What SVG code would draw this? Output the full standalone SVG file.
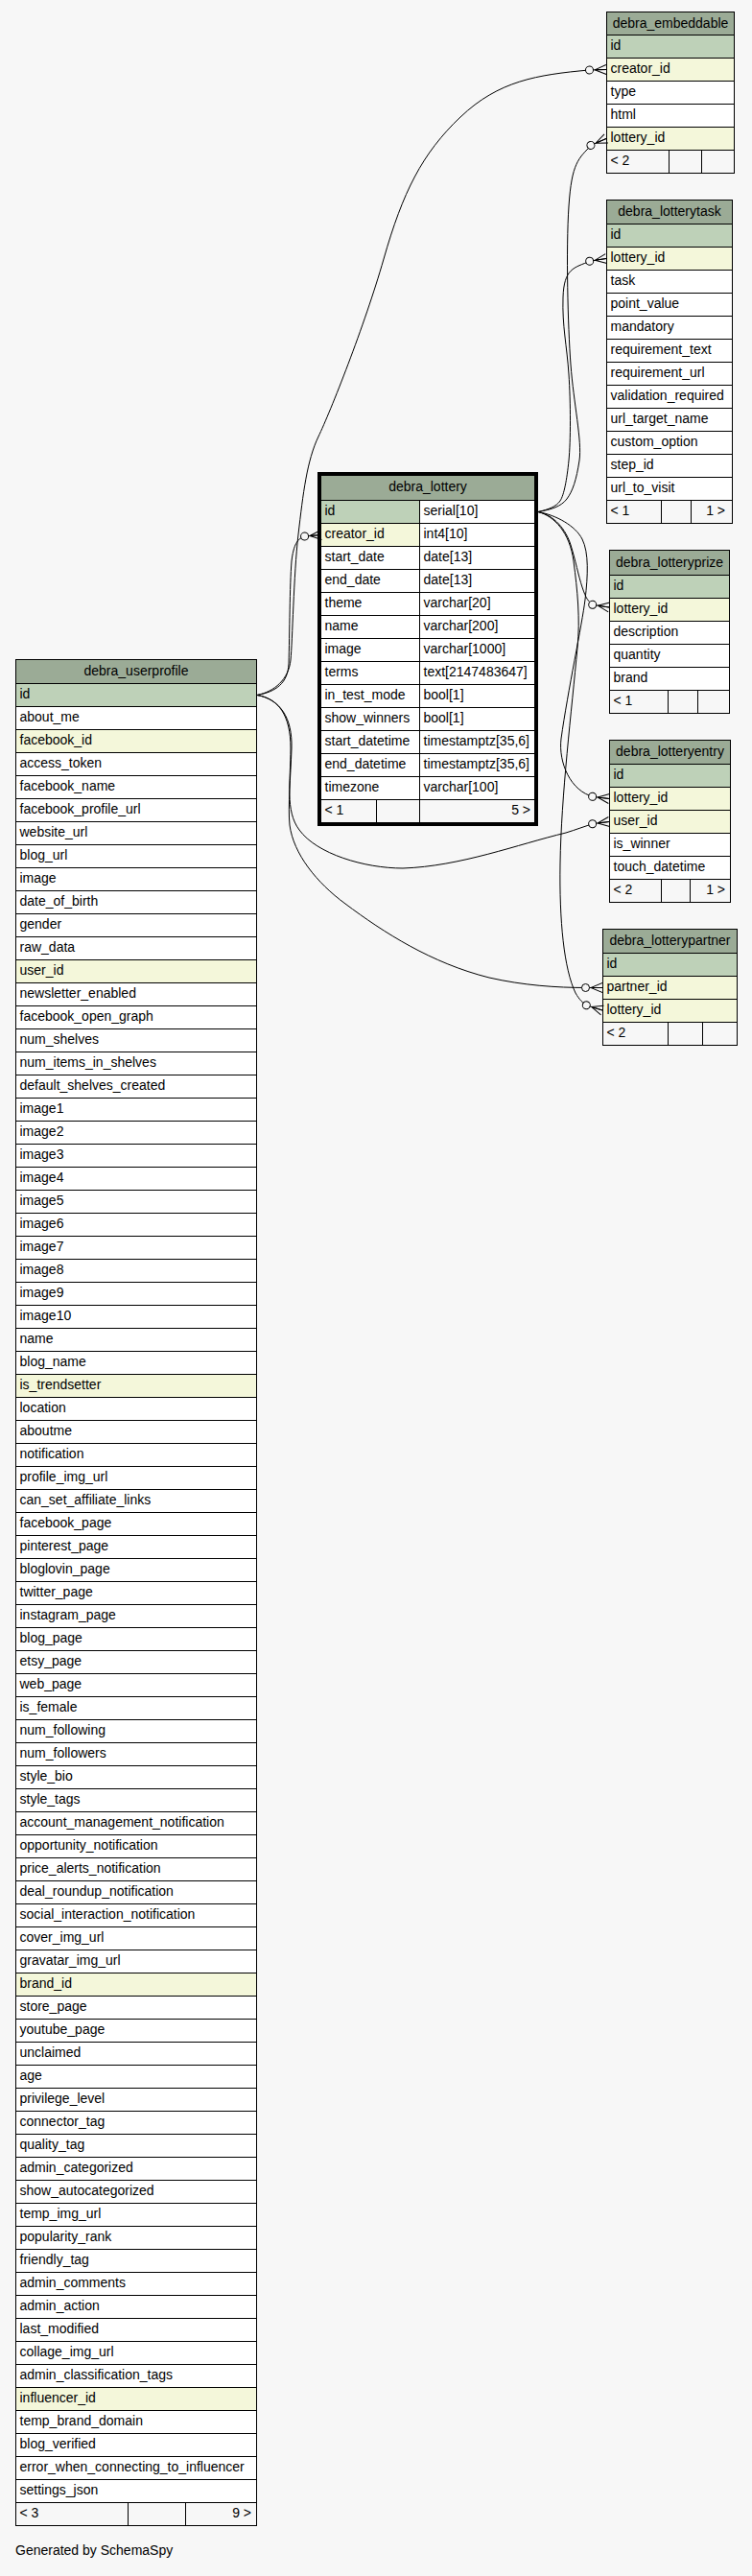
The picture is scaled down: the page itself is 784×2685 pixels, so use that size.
<svg xmlns="http://www.w3.org/2000/svg" width="784" height="2685" viewBox="0 0 784 2685">
<style>
.hd{fill:#9bab96;stroke:#000}
.pk{fill:#bed1b8;stroke:#000}
.fk{fill:#f4f7da;stroke:#000}
.bd{fill:#fff;stroke:#000}
.ft{fill:#f7f7f7;stroke:#000}
.ln{fill:none;stroke:#000}
#connectors path{fill:none;stroke:#000;stroke-width:1;marker-end:url(#cf)}
text{font-family:"Liberation Sans",Arial,Helvetica,sans-serif;font-size:14px;fill:#000}
.m{text-anchor:middle}
.e{text-anchor:end}
</style>
<defs>
<marker id="cf" viewBox="-22 -7 23 14" refX="0" refY="0" markerWidth="23" markerHeight="14" markerUnits="userSpaceOnUse" orient="auto" overflow="visible">
<path d="M-12,0L0,-5M-12,0L0,5M-12,0L0,0" fill="none" stroke="#000"/>
<circle cx="-17.5" cy="0" r="4" fill="#f7f7f7" stroke="#000"/>
</marker>
</defs>
<rect x="0" y="0" width="784" height="2685" fill="#f7f7f7"/>

<g id="debra_embeddable">
<rect class="hd" x="632.5" y="12.5" width="133" height="24"/>
<rect class="bd" x="632.5" y="36.5" width="133" height="120"/>
<rect class="pk" x="632.5" y="36.5" width="133" height="24"/>
<rect class="fk" x="632.5" y="60.5" width="133" height="24"/>
<rect class="fk" x="632.5" y="132.5" width="133" height="24"/>
<rect class="ft" x="632.5" y="156.5" width="133" height="24"/>
<path class="ln" d="M632.5,108.5h133M697.5,156.5v24M731.5,156.5v24"/>
<text class="m" x="699" y="29">debra_embeddable</text>
<text x="636.5" y="52">id</text>
<text x="636.5" y="76">creator_id</text>
<text x="636.5" y="100">type</text>
<text x="636.5" y="124">html</text>
<text x="636.5" y="148">lottery_id</text>
<text x="636.5" y="172">&lt; 2</text>
</g>

<g id="debra_lotterytask">
<rect class="hd" x="632.5" y="208.5" width="131" height="25"/>
<rect class="bd" x="632.5" y="233.5" width="131" height="288"/>
<rect class="pk" x="632.5" y="233.5" width="131" height="24"/>
<rect class="fk" x="632.5" y="257.5" width="131" height="24"/>
<rect class="ft" x="632.5" y="521.5" width="131" height="24"/>
<path class="ln" d="M632.5,305.5h131M632.5,329.5h131M632.5,353.5h131M632.5,377.5h131M632.5,401.5h131M632.5,425.5h131M632.5,449.5h131M632.5,473.5h131M632.5,497.5h131M689.5,521.5v24M720.5,521.5v24"/>
<text class="m" x="698" y="225">debra_lotterytask</text>
<text x="636.5" y="249">id</text>
<text x="636.5" y="273">lottery_id</text>
<text x="636.5" y="297">task</text>
<text x="636.5" y="321">point_value</text>
<text x="636.5" y="345">mandatory</text>
<text x="636.5" y="369">requirement_text</text>
<text x="636.5" y="393">requirement_url</text>
<text x="636.5" y="417">validation_required</text>
<text x="636.5" y="441">url_target_name</text>
<text x="636.5" y="465">custom_option</text>
<text x="636.5" y="489">step_id</text>
<text x="636.5" y="513">url_to_visit</text>
<text x="636.5" y="537">&lt; 1</text>
<text class="e" x="756" y="537">1 &gt;</text>
</g>

<g id="debra_lotteryprize">
<rect class="hd" x="635.5" y="573.5" width="125" height="26"/>
<rect class="bd" x="635.5" y="599.5" width="125" height="120"/>
<rect class="pk" x="635.5" y="599.5" width="125" height="24"/>
<rect class="fk" x="635.5" y="623.5" width="125" height="24"/>
<rect class="ft" x="635.5" y="719.5" width="125" height="24"/>
<path class="ln" d="M635.5,671.5h125M635.5,695.5h125M696.5,719.5v24M727.5,719.5v24"/>
<text class="m" x="698" y="591">debra_lotteryprize</text>
<text x="639.5" y="615">id</text>
<text x="639.5" y="639">lottery_id</text>
<text x="639.5" y="663">description</text>
<text x="639.5" y="687">quantity</text>
<text x="639.5" y="711">brand</text>
<text x="639.5" y="735">&lt; 1</text>
</g>

<g id="debra_lotteryentry">
<rect class="hd" x="635.5" y="771.5" width="126" height="25"/>
<rect class="bd" x="635.5" y="796.5" width="126" height="120"/>
<rect class="pk" x="635.5" y="796.5" width="126" height="24"/>
<rect class="fk" x="635.5" y="820.5" width="126" height="24"/>
<rect class="fk" x="635.5" y="844.5" width="126" height="24"/>
<rect class="ft" x="635.5" y="916.5" width="126" height="24"/>
<path class="ln" d="M635.5,892.5h126M689.5,916.5v24M719.5,916.5v24"/>
<text class="m" x="698.5" y="788">debra_lotteryentry</text>
<text x="639.5" y="812">id</text>
<text x="639.5" y="836">lottery_id</text>
<text x="639.5" y="860">user_id</text>
<text x="639.5" y="884">is_winner</text>
<text x="639.5" y="908">touch_datetime</text>
<text x="639.5" y="932">&lt; 2</text>
<text class="e" x="756" y="932">1 &gt;</text>
</g>

<g id="debra_lotterypartner">
<rect class="hd" x="628.5" y="968.5" width="140" height="25"/>
<rect class="pk" x="628.5" y="993.5" width="140" height="24"/>
<rect class="fk" x="628.5" y="1017.5" width="140" height="24"/>
<rect class="fk" x="628.5" y="1041.5" width="140" height="24"/>
<rect class="ft" x="628.5" y="1065.5" width="140" height="24"/>
<path class="ln" d="M696.5,1065.5v24M732.5,1065.5v24"/>
<text class="m" x="698.5" y="985">debra_lotterypartner</text>
<text x="632.5" y="1009">id</text>
<text x="632.5" y="1033">partner_id</text>
<text x="632.5" y="1057">lottery_id</text>
<text x="632.5" y="1081">&lt; 2</text>
</g>

<g id="debra_lottery">
<rect x="331" y="492" width="230" height="369" fill="#000"/>
<rect class="hd" x="334.5" y="495.5" width="223" height="26"/>
<rect class="bd" x="334.5" y="521.5" width="223" height="312"/>
<rect class="pk" x="334.5" y="521.5" width="103" height="24"/>
<rect class="fk" x="334.5" y="545.5" width="103" height="24"/>
<rect class="ft" x="334.5" y="833.5" width="223" height="24"/>
<path class="ln" d="M437.5,521.5v312M334.5,545.5h223M334.5,569.5h223M334.5,593.5h223M334.5,617.5h223M334.5,641.5h223M334.5,665.5h223M334.5,689.5h223M334.5,713.5h223M334.5,737.5h223M334.5,761.5h223M334.5,785.5h223M334.5,809.5h223M392.5,833.5v24M437.5,833.5v24"/>
<text class="m" x="446" y="512">debra_lottery</text>
<text x="338.5" y="537">id</text><text x="441.5" y="537">serial[10]</text>
<text x="338.5" y="561">creator_id</text><text x="441.5" y="561">int4[10]</text>
<text x="338.5" y="585">start_date</text><text x="441.5" y="585">date[13]</text>
<text x="338.5" y="609">end_date</text><text x="441.5" y="609">date[13]</text>
<text x="338.5" y="633">theme</text><text x="441.5" y="633">varchar[20]</text>
<text x="338.5" y="657">name</text><text x="441.5" y="657">varchar[200]</text>
<text x="338.5" y="681">image</text><text x="441.5" y="681">varchar[1000]</text>
<text x="338.5" y="705">terms</text><text x="441.5" y="705">text[2147483647]</text>
<text x="338.5" y="729">in_test_mode</text><text x="441.5" y="729">bool[1]</text>
<text x="338.5" y="753">show_winners</text><text x="441.5" y="753">bool[1]</text>
<text x="338.5" y="777">start_datetime</text><text x="441.5" y="777">timestamptz[35,6]</text>
<text x="338.5" y="801">end_datetime</text><text x="441.5" y="801">timestamptz[35,6]</text>
<text x="338.5" y="825">timezone</text><text x="441.5" y="825">varchar[100]</text>
<text x="338.5" y="849">&lt; 1</text>
<text class="e" x="553" y="849">5 &gt;</text>
</g>

<g id="debra_userprofile">
<rect class="hd" x="16.5" y="687.5" width="251" height="25"/>
<rect class="bd" x="16.5" y="712.5" width="251" height="1896"/>
<rect class="pk" x="16.5" y="712.5" width="251" height="24"/>
<rect class="fk" x="16.5" y="760.5" width="251" height="24"/>
<rect class="fk" x="16.5" y="1000.5" width="251" height="24"/>
<rect class="fk" x="16.5" y="1432.5" width="251" height="24"/>
<rect class="fk" x="16.5" y="2056.5" width="251" height="24"/>
<rect class="fk" x="16.5" y="2488.5" width="251" height="24"/>
<rect class="ft" x="16.5" y="2608.5" width="251" height="24"/>
<path class="ln" d="M16.5,736.5h251M16.5,760.5h251M16.5,784.5h251M16.5,808.5h251M16.5,832.5h251M16.5,856.5h251M16.5,880.5h251M16.5,904.5h251M16.5,928.5h251M16.5,952.5h251M16.5,976.5h251M16.5,1000.5h251M16.5,1024.5h251M16.5,1048.5h251M16.5,1072.5h251M16.5,1096.5h251M16.5,1120.5h251M16.5,1144.5h251M16.5,1168.5h251M16.5,1192.5h251M16.5,1216.5h251M16.5,1240.5h251M16.5,1264.5h251M16.5,1288.5h251M16.5,1312.5h251M16.5,1336.5h251M16.5,1360.5h251M16.5,1384.5h251M16.5,1408.5h251M16.5,1432.5h251M16.5,1456.5h251M16.5,1480.5h251M16.5,1504.5h251M16.5,1528.5h251M16.5,1552.5h251M16.5,1576.5h251M16.5,1600.5h251M16.5,1624.5h251M16.5,1648.5h251M16.5,1672.5h251M16.5,1696.5h251M16.5,1720.5h251M16.5,1744.5h251M16.5,1768.5h251M16.5,1792.5h251M16.5,1816.5h251M16.5,1840.5h251M16.5,1864.5h251M16.5,1888.5h251M16.5,1912.5h251M16.5,1936.5h251M16.5,1960.5h251M16.5,1984.5h251M16.5,2008.5h251M16.5,2032.5h251M16.5,2056.5h251M16.5,2080.5h251M16.5,2104.5h251M16.5,2128.5h251M16.5,2152.5h251M16.5,2176.5h251M16.5,2200.5h251M16.5,2224.5h251M16.5,2248.5h251M16.5,2272.5h251M16.5,2296.5h251M16.5,2320.5h251M16.5,2344.5h251M16.5,2368.5h251M16.5,2392.5h251M16.5,2416.5h251M16.5,2440.5h251M16.5,2464.5h251M16.5,2488.5h251M16.5,2512.5h251M16.5,2536.5h251M16.5,2560.5h251M16.5,2584.5h251M133.5,2608.5v24M193.5,2608.5v24"/>
<text class="m" x="142" y="704">debra_userprofile</text>
<text x="20.5" y="728">id</text>
<text x="20.5" y="752">about_me</text>
<text x="20.5" y="776">facebook_id</text>
<text x="20.5" y="800">access_token</text>
<text x="20.5" y="824">facebook_name</text>
<text x="20.5" y="848">facebook_profile_url</text>
<text x="20.5" y="872">website_url</text>
<text x="20.5" y="896">blog_url</text>
<text x="20.5" y="920">image</text>
<text x="20.5" y="944">date_of_birth</text>
<text x="20.5" y="968">gender</text>
<text x="20.5" y="992">raw_data</text>
<text x="20.5" y="1016">user_id</text>
<text x="20.5" y="1040">newsletter_enabled</text>
<text x="20.5" y="1064">facebook_open_graph</text>
<text x="20.5" y="1088">num_shelves</text>
<text x="20.5" y="1112">num_items_in_shelves</text>
<text x="20.5" y="1136">default_shelves_created</text>
<text x="20.5" y="1160">image1</text>
<text x="20.5" y="1184">image2</text>
<text x="20.5" y="1208">image3</text>
<text x="20.5" y="1232">image4</text>
<text x="20.5" y="1256">image5</text>
<text x="20.5" y="1280">image6</text>
<text x="20.5" y="1304">image7</text>
<text x="20.5" y="1328">image8</text>
<text x="20.5" y="1352">image9</text>
<text x="20.5" y="1376">image10</text>
<text x="20.5" y="1400">name</text>
<text x="20.5" y="1424">blog_name</text>
<text x="20.5" y="1448">is_trendsetter</text>
<text x="20.5" y="1472">location</text>
<text x="20.5" y="1496">aboutme</text>
<text x="20.5" y="1520">notification</text>
<text x="20.5" y="1544">profile_img_url</text>
<text x="20.5" y="1568">can_set_affiliate_links</text>
<text x="20.5" y="1592">facebook_page</text>
<text x="20.5" y="1616">pinterest_page</text>
<text x="20.5" y="1640">bloglovin_page</text>
<text x="20.5" y="1664">twitter_page</text>
<text x="20.5" y="1688">instagram_page</text>
<text x="20.5" y="1712">blog_page</text>
<text x="20.5" y="1736">etsy_page</text>
<text x="20.5" y="1760">web_page</text>
<text x="20.5" y="1784">is_female</text>
<text x="20.5" y="1808">num_following</text>
<text x="20.5" y="1832">num_followers</text>
<text x="20.5" y="1856">style_bio</text>
<text x="20.5" y="1880">style_tags</text>
<text x="20.5" y="1904">account_management_notification</text>
<text x="20.5" y="1928">opportunity_notification</text>
<text x="20.5" y="1952">price_alerts_notification</text>
<text x="20.5" y="1976">deal_roundup_notification</text>
<text x="20.5" y="2000">social_interaction_notification</text>
<text x="20.5" y="2024">cover_img_url</text>
<text x="20.5" y="2048">gravatar_img_url</text>
<text x="20.5" y="2072">brand_id</text>
<text x="20.5" y="2096">store_page</text>
<text x="20.5" y="2120">youtube_page</text>
<text x="20.5" y="2144">unclaimed</text>
<text x="20.5" y="2168">age</text>
<text x="20.5" y="2192">privilege_level</text>
<text x="20.5" y="2216">connector_tag</text>
<text x="20.5" y="2240">quality_tag</text>
<text x="20.5" y="2264">admin_categorized</text>
<text x="20.5" y="2288">show_autocategorized</text>
<text x="20.5" y="2312">temp_img_url</text>
<text x="20.5" y="2336">popularity_rank</text>
<text x="20.5" y="2360">friendly_tag</text>
<text x="20.5" y="2384">admin_comments</text>
<text x="20.5" y="2408">admin_action</text>
<text x="20.5" y="2432">last_modified</text>
<text x="20.5" y="2456">collage_img_url</text>
<text x="20.5" y="2480">admin_classification_tags</text>
<text x="20.5" y="2504">influencer_id</text>
<text x="20.5" y="2528">temp_brand_domain</text>
<text x="20.5" y="2552">blog_verified</text>
<text x="20.5" y="2576">error_when_connecting_to_influencer</text>
<text x="20.5" y="2600">settings_json</text>
<text x="20.5" y="2624">&lt; 3</text>
<text class="e" x="262" y="2624">9 &gt;</text>
</g>

<g id="connectors">
<path d="M268,724.5 C286,721 301,708 303,688 S306,600 311,557 S320,480 332,455 S380,340 400,270 S440,160 480,122 S560,78 614,73 L632,72.5"/>
<path d="M268,724.5 C288,721 300,712 301,692 C302,660 302,610 304,585 C306,568 310,561 318,559 L335,557.5"/>
<path d="M561,533.5 C575,531 585,528 591,520 S601,500 604,480 S598,420 595,380 S590,260 593,215 S603,165 617,151 L632,144.5"/>
<path d="M561,533.5 C572,531 580,528 584,522 S591,500 593,480 S595,420 593,390 S586,340 587,310 S598,279 616,272 L632,269.5"/>
<path d="M561,533.5 C578,537 590,552 595,568 S603,600 607,612 S613,627 619,630.5 L635,633"/>
<path d="M561,533.5 C580,537 600,548 607,562 S613,600 610,625 S592,720 585,770 C582,795 595,825 619,830.5 L635,832.5"/>
<path d="M561,533.5 C578,538 594,555 598,585 C602,615 605,645 602,675 C596,740 585,830 584,900 C583,960 588,1010 600,1035 C604,1042 608,1046 612,1048 L628,1053"/>
<path d="M268,724.5 C290,728 303,745 303,780 C303,815 297,845 312,865 C330,890 380,905 420,905 C480,903 540,880 590,868 C600,865 610,861 619,858.5 L635,856.5"/>
<path d="M268,724.5 C292,729 305,748 304,780 C303,810 300,840 302,860 C306,890 330,920 360,942 C400,972 450,1004 510,1019 C545,1027 580,1029.5 612,1029.5 L628,1029.5"/>
</g>

<text x="16" y="2663">Generated by SchemaSpy</text>
</svg>
